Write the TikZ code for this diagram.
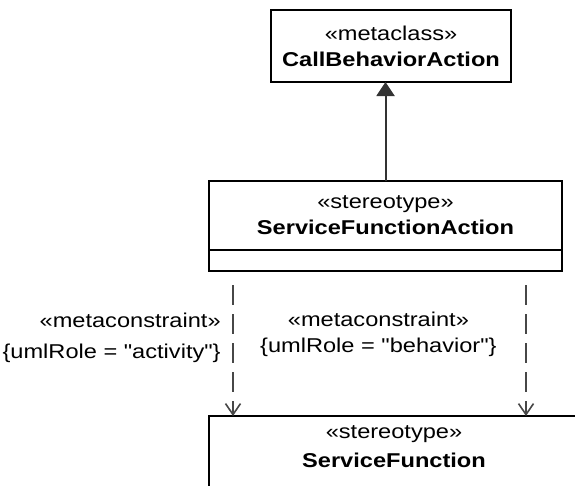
\documentclass[tikz,border=0pt]{standalone}
\usepackage{fontspec}
\setmainfont[FakeStretch=1.18, Ligatures=TeXOff]{Liberation Sans}
\usetikzlibrary{arrows.meta, positioning}

\begin{document}
\begin{tikzpicture}[
    x=1pt, y=-1pt,
    node distance=99pt,
    cls/.style={rectangle, draw=black, line width=1.3pt, align=center, inner sep=0pt, outer sep=0pt, font=\fontsize{20}{26}\selectfont},
    lbl/.style={align=center, font=\fontsize{20}{26}\selectfont},
    gen/.style={-{Triangle[length=14pt, width=18pt]}, line width=2pt, draw=black!80, color=black!80},
    dep/.style={-{Straight Barb[length=11pt, width=15pt, line width=1.6pt]}, line width=2pt, draw=black!72, dash pattern=on 20pt off 9pt}
]
\useasboundingbox (0,0) rectangle (575,485);
\clip (0,0) rectangle (575,485);

\node[cls, minimum width=353pt, minimum height=69pt] (sfa) at (385.5,215.5) {«stereotype»\\\textbf{ServiceFunctionAction}};
\node[cls, minimum width=353pt, minimum height=21pt, below=0pt of sfa] (sfaops) {};
\node[cls, minimum width=240pt, minimum height=72pt, above=99pt of sfa, xshift=5.5pt] (cba) {«metaclass»\\\textbf{CallBehaviorAction}};
\node[cls, minimum width=370pt, inner ysep=10pt, text depth=80pt, font=\fontsize{20}{29}\selectfont,
      below=145pt of sfaops.south west, anchor=north west] (sf) {«stereotype»\\\textbf{ServiceFunction}};

\coordinate (actsrc) at ([xshift=24pt]sfaops.south west);
\coordinate (behsrc) at ([xshift=-36pt]sfaops.south east);

\draw[gen] (sfa.north) -- (sfa.north |- cba.south);
\draw[dep, shorten <=14pt] (actsrc) -- (actsrc |- sf.north)
    node[lbl, pos=0.46, left=8pt, align=right, font=\fontsize{20}{31}\selectfont] (actlbl) {«metaconstraint»\\\{umlRole = "activity"\}};
\draw[dep, shorten <=14pt] (behsrc) -- (behsrc |- sf.north)
    node[lbl, pos=0.44, left=25pt] (behlbl) {«metaconstraint»\\\{umlRole = "behavior"\}};

\end{tikzpicture}
\end{document}
